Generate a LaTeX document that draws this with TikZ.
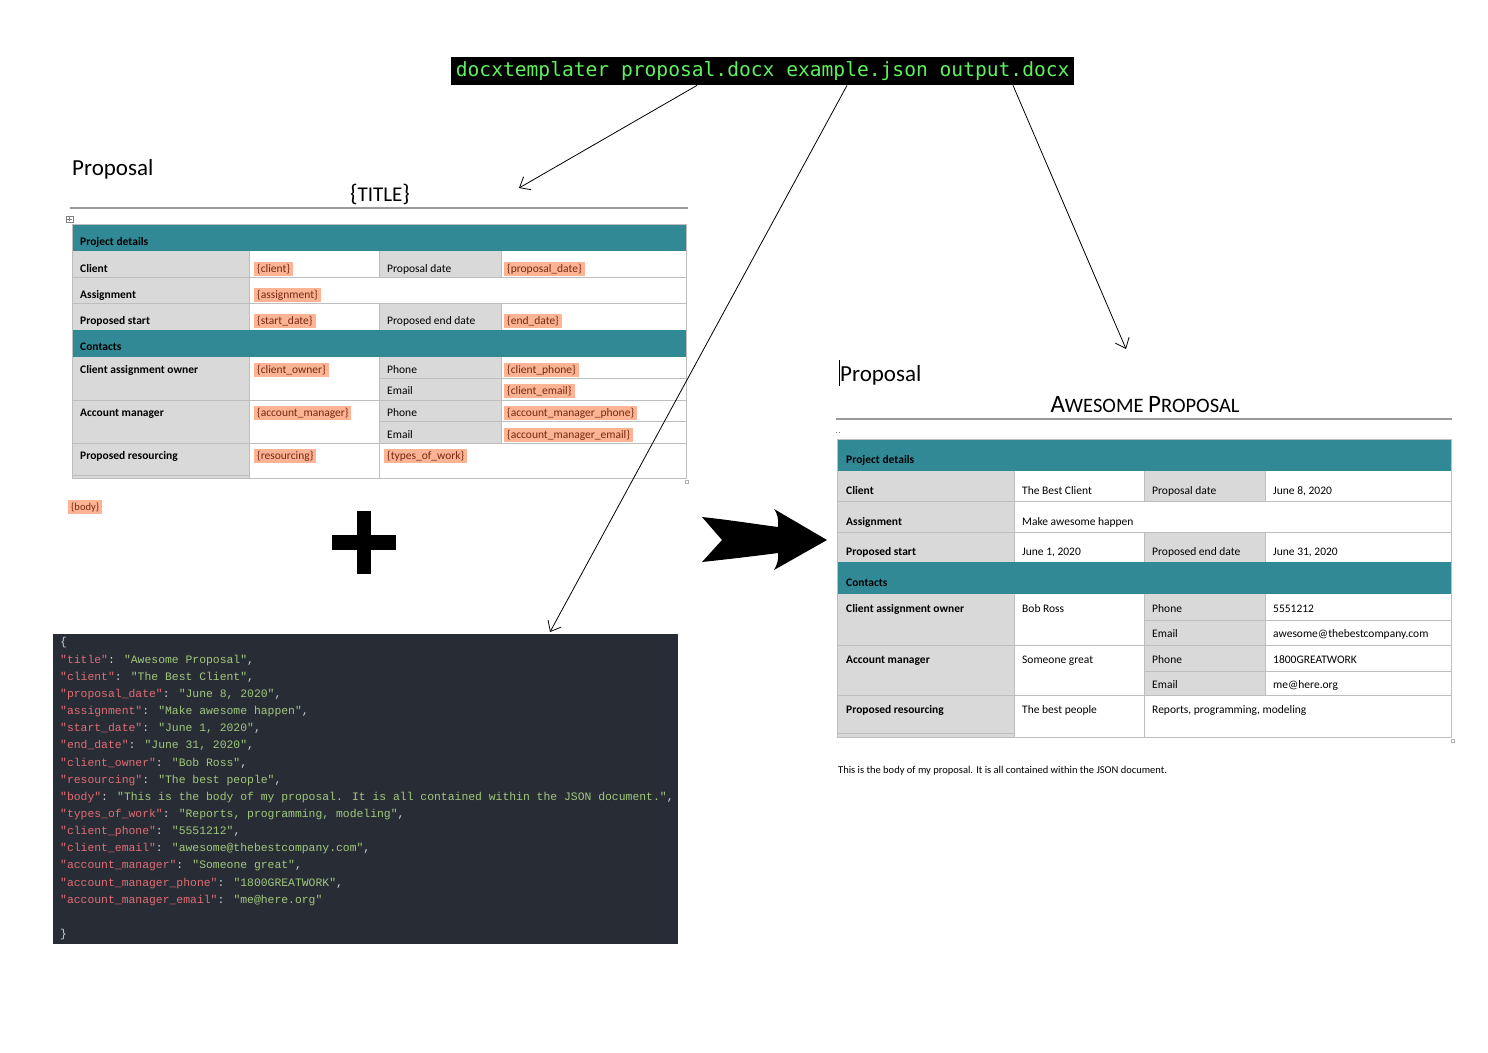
\documentclass[tikz,border=0pt]{standalone}
\usepackage{fontspec}
\setmainfont{Carlito}
\newfontfamily\termfont{DejaVu Sans Mono}
\newfontfamily\codefont{Liberation Mono}
\usetikzlibrary{arrows.meta}
\definecolor{docteal}{RGB}{49,137,150}
\definecolor{cellgray}{RGB}{217,217,217}
\definecolor{gridgray}{RGB}{190,190,190}
\definecolor{hlfill}{RGB}{252,180,148}
\definecolor{hltext}{RGB}{120,40,18}
\definecolor{termgreen}{RGB}{95,240,95}
\definecolor{codebg}{RGB}{40,44,52}
\definecolor{codekey}{RGB}{224,108,117}
\definecolor{codeval}{RGB}{160,200,125}
\definecolor{codepunct}{RGB}{205,210,216}
\newcommand\JK[1]{\textcolor{codekey}{"#1"}}
\newcommand\JV[1]{\textcolor{codeval}{"#1"}}
\tikzset{
  lbl/.style={font=\bfseries\fontsize{11.5}{13}\selectfont, anchor=base west, inner sep=0pt},
  txt/.style={font=\fontsize{11.5}{13}\selectfont, anchor=base west, inner sep=0pt},
  hl/.style={font=\fontsize{11.5}{13}\selectfont, anchor=base west, fill=hlfill, text=hltext, inner xsep=3pt, inner ysep=2pt},
  grid/.style={draw=gridgray, line width=0.8pt},
  docline/.style={draw=gray!80, line width=1.2pt},
  codeline/.style={font=\codefont\fontsize{11.4}{13}\selectfont, anchor=base west, inner sep=0pt, text=codepunct},
  arr/.style={draw=black, line width=0.8pt, -{Straight Barb[length=9pt,width=15pt]}},
}
\begin{document}
\begin{tikzpicture}[x=1pt,y=-1pt]
\useasboundingbox (0,0) rectangle (1488,1052);
\fill[white] (0,0) rectangle (1488,1052);

% command bar
\node[fill=black, text=termgreen, font=\termfont\fontsize{19.6}{24}\selectfont, inner sep=0pt,
      minimum height=28pt, minimum width=623pt, anchor=north west] (cmd) at (451,57)
      {docxtemplater proposal.docx example.json output.docx};

% ---------------- left template document ----------------
\node[font=\fontsize{23}{27}\selectfont, anchor=base west, inner sep=0pt] (lprop) at (72,175) {Proposal};
\node[anchor=base, inner sep=0pt] (ltitle) at (380,201)
  {\fontsize{24}{27}\selectfont\{\fontsize{21}{27}\selectfont TITLE\fontsize{24}{27}\selectfont\}};
\draw[docline] (70,208) -- (688,208);
\draw[gray, line width=0.4pt] (66,216) rectangle (73,222);
\draw[gray, line width=0.4pt] (69.5,217) -- (69.5,221) (67,219) -- (72,219);

\fill[cellgray] (72,251) rectangle (249,330);
\fill[cellgray] (72,357) rectangle (249,478);
\fill[cellgray] (379,251) rectangle (501,277);
\fill[cellgray] (379,303) rectangle (501,330);
\fill[cellgray] (379,357) rectangle (501,443);
\fill[docteal] (72,224) rectangle (686,251);
\fill[docteal] (72,330) rectangle (686,357);
\draw[grid] (72,224) rectangle (686,478);
\draw[grid] (72,277) -- (686,277) (72,303) -- (686,303) (379,378) -- (686,378)
  (72,400) -- (686,400) (379,421) -- (686,421) (72,443) -- (686,443) (72,475) -- (249,475);
\draw[grid] (249,251) -- (249,330) (249,357) -- (249,478) (379,251) -- (379,277)
  (379,303) -- (379,330) (379,357) -- (379,478) (501,251) -- (501,277)
  (501,303) -- (501,330) (501,357) -- (501,443);
\draw[gray!60, line width=0.4pt] (685,480) rectangle (688,483);

\node[lbl] (l1) at (80,245) {Project details};
\node[lbl] (l2) at (80,272) {Client};
\node[hl]  (l3) at (254,272) {\{client\}};
\node[txt] (l4) at (387,272) {Proposal date};
\node[hl]  (l5) at (504,272) {\{proposal\_date\}};
\node[lbl] (l6) at (80,298) {Assignment};
\node[hl]  (l7) at (254,298) {\{assignment\}};
\node[lbl] (l8) at (80,324) {Proposed start};
\node[hl]  (l9) at (254,324) {\{start\_date\}};
\node[txt] (l10) at (387,324) {Proposed end date};
\node[hl]  (l11) at (504,324) {\{end\_date\}};
\node[lbl] (l12) at (80,350) {Contacts};
\node[lbl] (l13) at (80,373) {Client assignment owner};
\node[hl]  (l14) at (254,373) {\{client\_owner\}};
\node[txt] (l15) at (387,373) {Phone};
\node[hl]  (l16) at (504,373) {\{client\_phone\}};
\node[txt] (l17) at (387,394) {Email};
\node[hl]  (l18) at (504,394) {\{client\_email\}};
\node[lbl] (l19) at (80,416) {Account manager};
\node[hl]  (l20) at (254,416) {\{account\_manager\}};
\node[txt] (l21) at (387,416) {Phone};
\node[hl]  (l22) at (504,416) {\{account\_manager\_phone\}};
\node[txt] (l23) at (387,438) {Email};
\node[hl]  (l24) at (504,438) {\{account\_manager\_email\}};
\node[lbl] (l25) at (80,459) {Proposed resourcing};
\node[hl]  (l26) at (254,459) {\{resourcing\}};
\node[hl]  (l27) at (384,459) {\{types\_of\_work\}};
\node[hl, font=\fontsize{10.5}{12}\selectfont] (lbody) at (68,510) {\{body\}};

% plus sign
\fill[black] (332,535) rectangle (396,550);
\fill[black] (357,511) rectangle (371,574);

% ---------------- JSON ----------------
\node[fill=codebg, inner sep=0pt, minimum width=625pt, minimum height=310pt, anchor=north west] (json) at (53,634) {};
\node[codeline] (j0) at (60,645) {\{};
\node[codeline] (j1) at (60,663) {\JK{title}: \JV{Awesome Proposal},};
\node[codeline] (j2) at (60,680) {\JK{client}: \JV{The Best Client},};
\node[codeline] (j3) at (60,697) {\JK{proposal\_date}: \JV{June 8, 2020},};
\node[codeline] (j4) at (60,714) {\JK{assignment}: \JV{Make awesome happen},};
\node[codeline] (j5) at (60,731) {\JK{start\_date}: \JV{June 1, 2020},};
\node[codeline] (j6) at (60,748) {\JK{end\_date}: \JV{June 31, 2020},};
\node[codeline] (j7) at (60,766) {\JK{client\_owner}: \JV{Bob Ross},};
\node[codeline] (j8) at (60,783) {\JK{resourcing}: \JV{The best people},};
\node[codeline] (j9) at (60,800) {\JK{body}: \JV{This is the body of my proposal. It is all contained within the JSON document.},};
\node[codeline] (j10) at (60,817) {\JK{types\_of\_work}: \JV{Reports, programming, modeling},};
\node[codeline] (j11) at (60,834) {\JK{client\_phone}: \JV{5551212},};
\node[codeline] (j12) at (60,851) {\JK{client\_email}: \JV{awesome@thebestcompany.com},};
\node[codeline] (j13) at (60,868) {\JK{account\_manager}: \JV{Someone great},};
\node[codeline] (j14) at (60,886) {\JK{account\_manager\_phone}: \JV{1800GREATWORK},};
\node[codeline] (j15) at (60,903) {\JK{account\_manager\_email}: \JV{me@here.org}};
\node[codeline] (j16) at (60,937) {\}};

% big black arrow
\fill[black] (702,517) .. controls (730,520) and (755,524) .. (778,527)
  .. controls (779,519) and (777,513) .. (774,509) -- (827,540) -- (774,570)
  .. controls (777,565) and (779,559) .. (778,553)
  .. controls (755,556) and (730,559) .. (702,562) -- (722,540) -- cycle;

% ---------------- right output document ----------------
\draw[black, line width=0.6pt] (839,360) -- (839,386);
\node[font=\fontsize{23}{27}\selectfont, anchor=base west, inner sep=0pt] (rprop) at (840,381) {Proposal};
\node[anchor=base, inner sep=0pt] (rtitle) at (1145,412)
  {\fontsize{25}{28}\selectfont A\fontsize{20.5}{28}\selectfont WESOME \fontsize{25}{28}\selectfont P\fontsize{20.5}{28}\selectfont ROPOSAL};
\draw[docline] (836,419) -- (1452,419);
\fill[gray] (836,432) rectangle (837,433);
\fill[gray] (838.5,432) rectangle (839.5,433);

\fill[cellgray] (837,471) rectangle (1014,562);
\fill[cellgray] (837,594) rectangle (1014,737);
\fill[cellgray] (1144,471) rectangle (1265,501);
\fill[cellgray] (1144,532) rectangle (1265,562);
\fill[cellgray] (1144,594) rectangle (1265,695);
\fill[docteal] (837,439) rectangle (1451,471);
\fill[docteal] (837,562) rectangle (1451,594);
\draw[grid] (837,439) rectangle (1451,737);
\draw[grid] (837,501) -- (1451,501) (837,532) -- (1451,532) (1144,620) -- (1451,620)
  (837,645) -- (1451,645) (1144,671) -- (1451,671) (837,695) -- (1451,695) (837,733) -- (1014,733);
\draw[grid] (1014,471) -- (1014,562) (1014,594) -- (1014,737) (1144,471) -- (1144,501)
  (1144,532) -- (1144,562) (1144,594) -- (1144,737) (1265,471) -- (1265,501)
  (1265,532) -- (1265,562) (1265,594) -- (1265,695);
\draw[gray!60, line width=0.4pt] (1451,739) rectangle (1454,742);

\node[lbl] (r1) at (846,463) {Project details};
\node[lbl] (r2) at (846,494) {Client};
\node[txt] (r3) at (1022,494) {The Best Client};
\node[txt] (r4) at (1152,494) {Proposal date};
\node[txt] (r5) at (1273,494) {June 8, 2020};
\node[lbl] (r6) at (846,525) {Assignment};
\node[txt] (r7) at (1022,525) {Make awesome happen};
\node[lbl] (r8) at (846,555) {Proposed start};
\node[txt] (r9) at (1022,555) {June 1, 2020};
\node[txt] (r10) at (1152,555) {Proposed end date};
\node[txt] (r11) at (1273,555) {June 31, 2020};
\node[lbl] (r12) at (846,586) {Contacts};
\node[lbl] (r13) at (846,612) {Client assignment owner};
\node[txt] (r14) at (1022,612) {Bob Ross};
\node[txt] (r15) at (1152,612) {Phone};
\node[txt] (r16) at (1273,612) {5551212};
\node[txt] (r17) at (1152,637) {Email};
\node[txt] (r18) at (1273,637) {awesome@thebestcompany.com};
\node[lbl] (r19) at (846,663) {Account manager};
\node[txt] (r20) at (1022,663) {Someone great};
\node[txt] (r21) at (1152,663) {Phone};
\node[txt] (r22) at (1273,663) {1800GREATWORK};
\node[txt] (r23) at (1152,688) {Email};
\node[txt] (r24) at (1273,688) {me@here.org};
\node[lbl] (r25) at (846,713) {Proposed resourcing};
\node[txt] (r26) at (1022,713) {The best people};
\node[txt] (r27) at (1152,713) {Reports, programming, modeling};
\node[txt, font=\fontsize{10.5}{12}\selectfont] (rbody) at (838,773)
  {This is the body of my proposal. It is all contained within the JSON document.};

% connectors
\coordinate (t1) at (519,188);
\coordinate (t2) at (550,632);
\coordinate (t3) at (1126,349);
\draw[arr] ([xshift=246pt]cmd.south west) -- (t1);
\draw[arr] ([xshift=396pt]cmd.south west) -- (t2);
\draw[arr] ([xshift=562pt]cmd.south west) -- (t3);
\end{tikzpicture}
\end{document}
